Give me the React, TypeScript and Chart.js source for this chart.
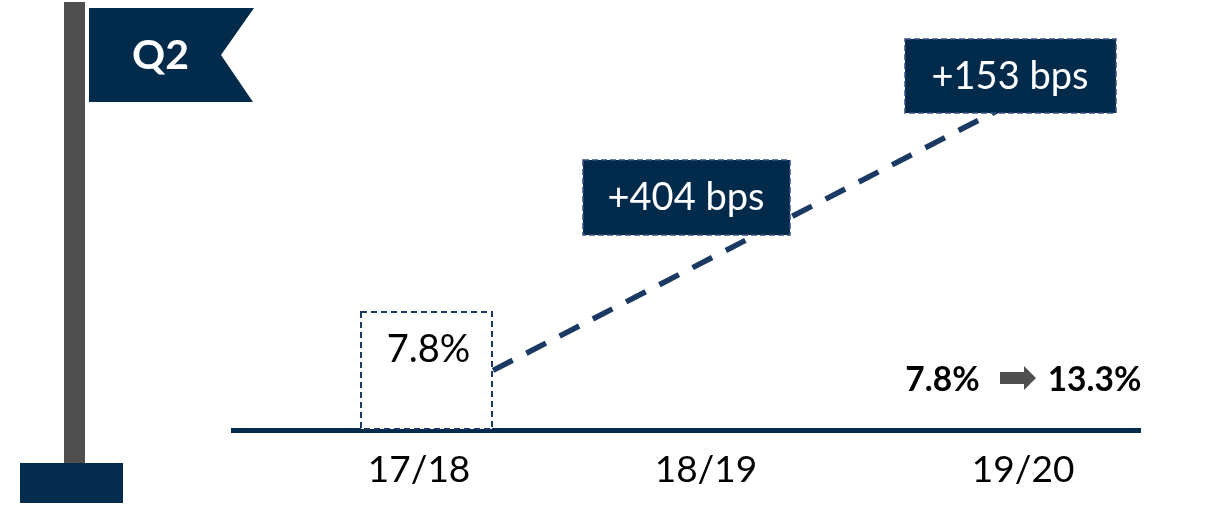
import React, { useEffect, useRef } from "react";
import { Chart, registerables } from "chart.js";

Chart.register(...registerables);

// Fiscal years on the axis and where each one sits on the linear x scale.
const categories = ["17/18", "18/19", "19/20"];
const tickPositions = [0, 0.95, 2];

// Margin trend: opening and closing year only, joined by one dashed segment.
const trendX = [0, 2];
const trendValues = [7.8, 13.3];

// Year-on-year changes shown in the dark callouts.
const changeLabels = ["+404 bps", "+153 bps"];

const quarterLabel = "Q2";
const NAVY = "#022b4b";
const LINE_BLUE = "#1b3a63";
const GREY = "#505050";
const FONT = "Lato, 'Open Sans', sans-serif";

function dashedBox(
  ctx: CanvasRenderingContext2D,
  x: number,
  y: number,
  w: number,
  h: number,
  fill: string,
  dash: number[],
  stroke: string,
  width: number
) {
  ctx.fillStyle = fill;
  ctx.fillRect(x, y, w, h);
  ctx.save();
  ctx.setLineDash(dash);
  ctx.lineWidth = width;
  ctx.strokeStyle = stroke;
  ctx.strokeRect(x, y, w, h);
  ctx.restore();
}

function centredText(
  ctx: CanvasRenderingContext2D,
  text: string,
  x: number,
  y: number,
  font: string,
  color: string
) {
  ctx.font = font;
  ctx.fillStyle = color;
  ctx.textAlign = "center";
  ctx.textBaseline = "middle";
  ctx.fillText(text, x, y);
}

// Flag, callouts and the summary line sit on top of the plotted trend.
const decorations = {
  id: "decorations",
  afterDatasetsDraw(chart: Chart) {
    const ctx = chart.ctx;
    ctx.save();

    // Flag pole and foot
    ctx.fillStyle = "#4f4f4f";
    ctx.fillRect(64, 2, 21, 461);
    ctx.fillStyle = "#052c4d";
    ctx.fillRect(20, 463, 103, 40);

    // Pennant
    ctx.fillStyle = NAVY;
    ctx.beginPath();
    ctx.moveTo(89, 8);
    ctx.lineTo(254, 8);
    ctx.lineTo(221, 55);
    ctx.lineTo(253, 102);
    ctx.lineTo(89, 102);
    ctx.closePath();
    ctx.fill();
    centredText(ctx, quarterLabel, 160.5, 56, `bold 41px ${FONT}`, "#ffffff");

    // Opening-year box
    dashedBox(ctx, 361, 312, 131, 117, "#ffffff", [6, 4], LINE_BLUE, 2);
    centredText(ctx, `${trendValues[0]}%`, 428.5, 350, `38px ${FONT}`, "#000000");

    // Change callouts
    dashedBox(ctx, 583, 160, 207, 75, NAVY, [6, 3], "#34517f", 1.5);
    centredText(ctx, changeLabels[0], 686, 198, `38px ${FONT}`, "#ffffff");
    dashedBox(ctx, 905, 39, 211, 74, NAVY, [6, 3], "#34517f", 1.5);
    centredText(ctx, changeLabels[1], 1010, 77, `38px ${FONT}`, "#ffffff");

    // Start-to-end summary with arrow
    centredText(ctx, `${trendValues[0]}%`, 942.5, 380, `bold 33.5px ${FONT}`, "#000000");
    centredText(ctx, `${trendValues[1]}%`, 1094.5, 380, `bold 33.5px ${FONT}`, "#000000");
    ctx.fillStyle = GREY;
    ctx.beginPath();
    ctx.moveTo(1000, 372);
    ctx.lineTo(1024, 372);
    ctx.lineTo(1024, 366);
    ctx.lineTo(1036, 378);
    ctx.lineTo(1024, 390);
    ctx.lineTo(1024, 384);
    ctx.lineTo(1000, 384);
    ctx.closePath();
    ctx.fill();

    ctx.restore();
  },
};

export default function App() {
  const canvasRef = useRef<HTMLCanvasElement>(null);

  useEffect(() => {
    const chart = new Chart(canvasRef.current!, {
      type: "line",
      data: {
        datasets: [
          {
            data: trendX.map((x, i) => ({ x, y: trendValues[i] })),
            borderColor: LINE_BLUE,
            borderWidth: 5.5,
            borderDash: [22, 15.4],
            borderDashOffset: -8.5,
            pointRadius: 0,
            tension: 0,
          },
        ],
      },
      options: {
        responsive: false,
        animation: false,
        layout: { padding: { left: 233, right: 74, top: 0, bottom: 0 } },
        plugins: { legend: { display: false }, tooltip: { enabled: false } },
        scales: {
          x: {
            type: "linear",
            min: -0.616,
            max: 2.387,
            afterBuildTicks(scale: any) {
              scale.ticks = tickPositions.map((value) => ({ value }));
            },
            afterFit(scale: any) {
              scale.height = 84;
            },
            grid: { display: false },
            border: { display: true, color: NAVY, width: 5 },
            ticks: {
              autoSkip: false,
              maxRotation: 0,
              padding: 10,
              color: "#000000",
              font: { family: FONT, size: 37 },
              callback: (_v: any, i: number) => categories[i],
            },
          },
          y: {
            display: false,
            min: 7.42,
            max: 15.02,
          },
        },
      },
      plugins: [decorations],
    } as any);
    return () => chart.destroy();
  }, []);

  return (
    <div style={{ position: "absolute", left: 0, top: 0, width: 1214, height: 514, background: "#ffffff" }}>
      <canvas ref={canvasRef} width={1214} height={514} style={{ display: "block" }} />
    </div>
  );
}
